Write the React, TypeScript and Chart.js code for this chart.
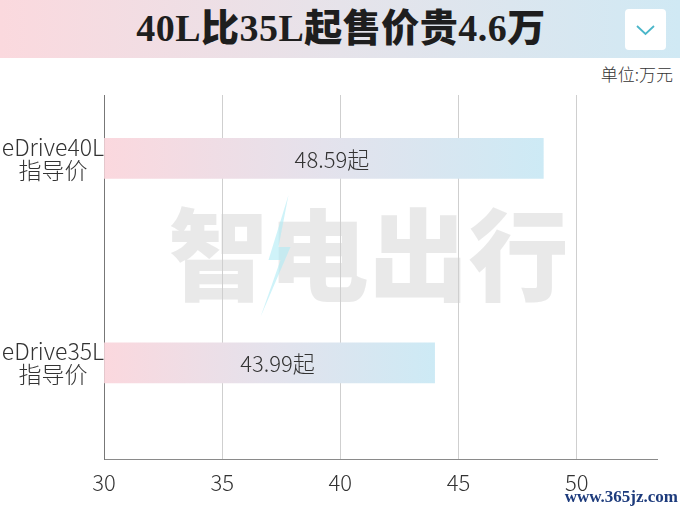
import React, { useEffect, useRef } from "react";
import { Chart, registerables } from "chart.js";

Chart.register(...registerables);

const TITLE = "40L比35L起售价贵4.6万";
const UNIT = "单位:万元";
const categories: string[][] = [
  ["eDrive40L", "指导价"],
  ["eDrive35L", "指导价"],
];
const prices = [48.59, 43.99];
const valueLabels = ["48.59起", "43.99起"];
const xTicks = [30, 35, 40, 45, 50];
const X_MIN = 30;
const X_MAX = 53.4;
const WATERMARK = "智电出行";
const SITE = "www.365jz.com";

const FONT = '"Noto Sans CJK SC", "Noto Sans", sans-serif';
const PINK = "#fbd8de";
const BLUE = "#cdeaf5";

const extrasPlugin = {
  id: "extras",
  beforeDraw(chart: any) {
    const { ctx, chartArea } = chart;
    if (!chartArea) return;
    ctx.save();
    const cx = (chartArea.left + chartArea.right) / 2 - 12;
    const cy = chartArea.top + 160;
    ctx.font = `900 100px ${FONT}`;
    ctx.fillStyle = "rgba(228,228,228,0.8)";
    ctx.textAlign = "center";
    ctx.textBaseline = "middle";
    ctx.fillText(WATERMARK, cx, cy);
    // lightning accent
    ctx.fillStyle = "rgba(175,235,245,0.6)";
    ctx.beginPath();
    ctx.moveTo(cx - 80, cy - 60);
    ctx.lineTo(cx - 100, cy + 5);
    ctx.lineTo(cx - 88, cy + 5);
    ctx.lineTo(cx - 108, cy + 62);
    ctx.lineTo(cx - 78, cy - 8);
    ctx.lineTo(cx - 90, cy - 8);
    ctx.closePath();
    ctx.fill();
    ctx.restore();
  },
  afterDatasetsDraw(chart: any) {
    const { ctx } = chart;
    const meta = chart.getDatasetMeta(0);
    ctx.save();
    ctx.font = `300 22px ${FONT}`;
    ctx.fillStyle = "#333333";
    ctx.textAlign = "center";
    ctx.textBaseline = "middle";
    meta.data.forEach((el: any, i: number) => {
      const { x, y, base } = el.getProps(["x", "y", "base"], true);
      ctx.fillText(valueLabels[i], (x + base) / 2 + 8, y + 1);
    });
    ctx.restore();
  },
};

export default function App() {
  const ref = useRef<HTMLCanvasElement | null>(null);

  useEffect(() => {
    if (!ref.current) return;
    const chart = new Chart(ref.current, {
      type: "bar",
      data: {
        datasets: [
          {
            data: prices.map((v, i) => ({ x: v, y: i })),
            base: X_MIN,
            barThickness: 40,
            borderWidth: 0,
            backgroundColor: (c: any) => {
              const ch = c.chart;
              if (!ch.chartArea || !ch.scales.x || !c.raw) return PINK;
              const x0 = ch.scales.x.getPixelForValue(X_MIN);
              const x1 = ch.scales.x.getPixelForValue(c.raw.x);
              const g = ch.ctx.createLinearGradient(x0, 0, x1, 0);
              g.addColorStop(0, PINK);
              g.addColorStop(0.5, "#e4e2ec");
              g.addColorStop(1, BLUE);
              return g;
            },
          } as any,
        ],
      },
      options: {
        indexAxis: "y",
        animation: false,
        responsive: false,
        maintainAspectRatio: false,
        layout: { padding: { top: 37, right: 23, left: 0, bottom: 0 } },
        plugins: {
          legend: { display: false },
          tooltip: { enabled: false },
        },
        scales: {
          x: {
            type: "linear",
            min: X_MIN,
            max: X_MAX,
            afterFit: (s: any) => {
              s.height = 51;
            },
            afterBuildTicks: (s: any) => {
              s.ticks = xTicks.map((v) => ({ value: v }));
            },
            ticks: {
              includeBounds: false,
              padding: 10,
              color: "#333333",
              font: { family: FONT, size: 22, weight: "300" as any },
            },
            grid: { color: "#cfcfcf", lineWidth: 1, drawTicks: false },
            border: { color: "#8a8a8a", width: 1 },
          },
          y: {
            type: "linear",
            reverse: true,
            offset: false,
            min: -0.31,
            max: 1.47,
            afterFit: (s: any) => {
              s.width = 104;
            },
            afterBuildTicks: (s: any) => {
              s.ticks = categories.map((_, i) => ({ value: i }));
            },
            ticks: {
              crossAlign: "center",
              padding: 0,
              color: "#333333",
              font: { family: FONT, size: 23, weight: "300" as any, lineHeight: 1.0 },
              callback: (v: any) => categories[Number(v)] ?? "",
            },
            grid: { display: false, drawTicks: false },
            border: { color: "#777777", width: 1 },
          },
        },
      },
      plugins: [extrasPlugin],
    });
    return () => chart.destroy();
  }, []);

  return (
    <div
      style={{
        position: "absolute",
        left: 0,
        top: 0,
        width: 680,
        height: 510,
        background: "#ffffff",
        overflow: "hidden",
        fontFamily: FONT,
      }}
    >
      <div
        style={{
          position: "absolute",
          left: 0,
          top: 0,
          width: 680,
          height: 58,
          background: "linear-gradient(to right, #fbd9de, #e6e3ea 50%, #d0e9f4)",
        }}
      >
        <div
          style={{
            position: "absolute",
            left: 0,
            width: 682,
            top: 0,
            height: 56,
            lineHeight: "56px",
            textAlign: "center",
            fontFamily: '"Liberation Serif", "Noto Sans CJK SC", serif',
            fontWeight: 900,
            fontSize: 38,
            color: "#1e1e1e",
            letterSpacing: 0.5,
          }}
        >
          {TITLE}
        </div>
        <div
          style={{
            position: "absolute",
            left: 625,
            top: 9,
            width: 41,
            height: 41,
            background: "#ffffff",
            borderRadius: 4,
          }}
        >
          <svg width="41" height="41" viewBox="0 0 41 41">
            <polyline
              points="12,17 20.5,25 29,17"
              fill="none"
              stroke="#4bb6c9"
              strokeWidth="1.8"
            />
          </svg>
        </div>
      </div>
      <div
        style={{
          position: "absolute",
          right: 7,
          top: 61,
          fontSize: 17,
          color: "#333333",
          fontWeight: 300,
        }}
      >
        {UNIT}
      </div>
      <canvas
        ref={ref}
        width={680}
        height={452}
        style={{ position: "absolute", left: 0, top: 58, width: 680, height: 452 }}
      />
      <div
        style={{
          position: "absolute",
          right: 2,
          top: 487,
          fontFamily: '"Liberation Serif", serif',
          fontWeight: 700,
          fontSize: 17,
          color: "#1d3b7c",
        }}
      >
        {SITE}
      </div>
    </div>
  );
}
